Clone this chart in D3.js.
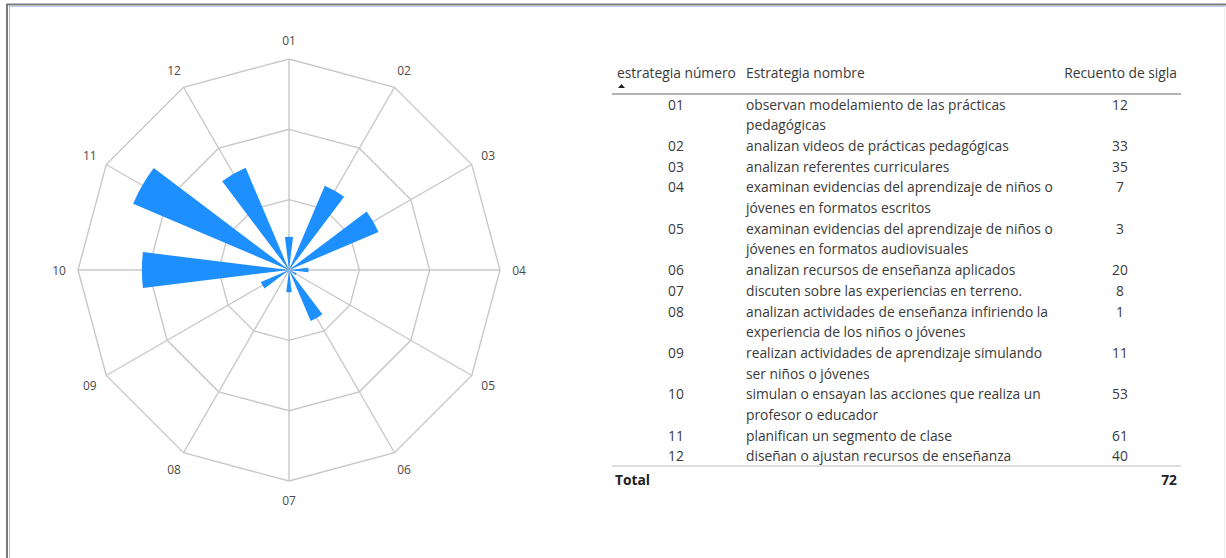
<!DOCTYPE html>
<html>
<head>
<meta charset="utf-8">
<script src="https://cdn.jsdelivr.net/npm/d3@7"></script>
<style>
  html, body { margin: 0; padding: 0; background: #fff; }
  svg { display: block; }
  text { font-family: "Open Sans", "Noto Sans", sans-serif; }
</style>
</head>
<body>
<svg id="chart" width="1226" height="558"></svg>
<script>
// Strategy codes, names and counts
const codes = ["01", "02", "03", "04", "05", "06", "07", "08", "09", "10", "11", "12"];
const counts = [12, 33, 35, 7, 3, 20, 8, 1, 11, 53, 61, 40];
const names = [
  ["observan modelamiento de las prácticas", "pedagógicas"],
  ["analizan videos de prácticas pedagógicas"],
  ["analizan referentes curriculares"],
  ["examinan evidencias del aprendizaje de niños o", "jóvenes en formatos escritos"],
  ["examinan evidencias del aprendizaje de niños o", "jóvenes en formatos audiovisuales"],
  ["analizan recursos de enseñanza aplicados"],
  ["discuten sobre las experiencias en terreno."],
  ["analizan actividades de enseñanza infiriendo la", "experiencia de los niños o jóvenes"],
  ["realizan actividades de aprendizaje simulando", "ser niños o jóvenes"],
  ["simulan o ensayan las acciones que realiza un", "profesor o educador"],
  ["planifican un segmento de clase"],
  ["diseñan o ajustan recursos de enseñanza"]
];
const headers = ["estrategia número", "Estrategia nombre", "Recuento de sigla"];
const totalLabel = "Total";
const totalValue = 72;
const radialMax = 76;
const ringCount = 3;

const svg = d3.select("#chart");

// Frame around the visual
svg.append("line").attr("x1", 6).attr("x2", 1226).attr("y1", 4.5).attr("y2", 4.5)
  .attr("stroke", "#7b7b7b").attr("stroke-width", 2);
svg.append("line").attr("x1", 7).attr("x2", 7).attr("y1", 4).attr("y2", 558)
  .attr("stroke", "#7b7b7b").attr("stroke-width", 2);
svg.append("line").attr("x1", 9).attr("x2", 1226).attr("y1", 6.5).attr("y2", 6.5)
  .attr("stroke", "#b9d2f2").attr("stroke-width", 1);
svg.append("line").attr("x1", 9.5).attr("x2", 9.5).attr("y1", 6).attr("y2", 558)
  .attr("stroke", "#9cc0ee").attr("stroke-width", 1);
svg.append("line").attr("x1", 1224.5).attr("x2", 1224.5).attr("y1", 6).attr("y2", 558)
  .attr("stroke", "#eeeeee").attr("stroke-width", 1);

// ---------- Polar bar chart ----------
const cx = 289, cy = 270, R = 211;
const polar = svg.append("g").attr("transform", `translate(${cx},${cy})`);

const angle = d3.scalePoint().domain(codes).range([0, 2 * Math.PI * (codes.length - 1) / codes.length]);
const radius = d3.scaleLinear().domain([0, radialMax]).range([0, R]);

const pt = (a, r) => [r * Math.sin(a), -r * Math.cos(a)];

// concentric polygon rings
const ringValues = d3.range(1, ringCount + 1).map(k => radialMax * k / ringCount);
polar.selectAll("path.ring").data(ringValues).join("path")
  .attr("class", "ring")
  .attr("d", v => d3.line()(codes.map(c => pt(angle(c), radius(v)))) + "Z")
  .attr("fill", "none").attr("stroke", "#c8c8c8").attr("stroke-width", 1.4);

// spokes
polar.selectAll("line.spoke").data(codes).join("line")
  .attr("class", "spoke")
  .attr("x1", 0).attr("y1", 0)
  .attr("x2", c => pt(angle(c), radius(radialMax))[0])
  .attr("y2", c => pt(angle(c), radius(radialMax))[1])
  .attr("stroke", "#c8c8c8").attr("stroke-width", 1.4);

// wedges
const halfWidth = (14 / 2) * Math.PI / 180;
const arc = d3.arc().innerRadius(0);
polar.selectAll("path.bar").data(codes.map((c, i) => ({ code: c, value: counts[i] }))).join("path")
  .attr("class", "bar")
  .attr("d", d => arc({
    startAngle: angle(d.code) - halfWidth,
    endAngle: angle(d.code) + halfWidth,
    outerRadius: radius(d.value)
  }))
  .attr("fill", "#1e8fff");

// category labels
const labelR = radius(radialMax) + 19;
polar.selectAll("text.cat").data(codes).join("text")
  .attr("class", "cat")
  .attr("x", c => pt(angle(c), labelR)[0])
  .attr("y", c => pt(angle(c), labelR)[1])
  .attr("text-anchor", "middle").attr("dominant-baseline", "central")
  .attr("font-size", 12).attr("fill", "#4a4a4a")
  .text(c => c);

// ---------- Table ----------
const table = svg.append("g");
const fs = 13.8;
const textColor = "#3a3a3a";
const colNum = 676, colName = 746, colCount = 1120;
const left = 612, right = 1181;
const lineH = 20.7;
const firstY = 104;

table.append("text").attr("x", 617).attr("y", 72).attr("dominant-baseline", "central")
  .attr("font-size", fs).attr("fill", textColor).text(headers[0]);
table.append("text").attr("x", colName).attr("y", 72).attr("dominant-baseline", "central")
  .attr("font-size", fs).attr("fill", textColor).text(headers[1]);
table.append("text").attr("x", 1177).attr("y", 72).attr("dominant-baseline", "central")
  .attr("text-anchor", "end")
  .attr("font-size", fs).attr("fill", textColor).text(headers[2]);
// sort indicator
table.append("path").attr("d", "M618,88 L621.5,84 L625,88 Z").attr("fill", "#222");

table.append("line").attr("x1", left).attr("x2", right).attr("y1", 94).attr("y2", 94)
  .attr("stroke", "#9a9a9a").attr("stroke-width", 1.5);

// row offsets from the number of name lines
const rowStart = [];
let acc = 0;
names.forEach(n => { rowStart.push(acc); acc += n.length; });

const rows = table.selectAll("g.row").data(codes.map((c, i) => ({
  code: c, lines: names[i], count: counts[i], y: firstY + rowStart[i] * lineH
}))).join("g").attr("class", "row");

rows.append("text").attr("x", colNum).attr("y", d => d.y)
  .attr("text-anchor", "middle").attr("dominant-baseline", "central")
  .attr("font-size", fs).attr("fill", textColor).text(d => d.code);

rows.append("text").attr("x", colCount).attr("y", d => d.y)
  .attr("text-anchor", "middle").attr("dominant-baseline", "central")
  .attr("font-size", fs).attr("fill", textColor).text(d => d.count);

rows.each(function (d) {
  d3.select(this).selectAll("text.name").data(d.lines).join("text")
    .attr("class", "name")
    .attr("x", colName).attr("y", (l, j) => d.y + j * lineH)
    .attr("dominant-baseline", "central")
    .attr("font-size", fs).attr("fill", textColor).text(l => l);
});

table.append("line").attr("x1", left).attr("x2", right).attr("y1", 466).attr("y2", 466)
  .attr("stroke", "#bdbdbd").attr("stroke-width", 1.2);

table.append("text").attr("x", 615).attr("y", 479).attr("dominant-baseline", "central")
  .attr("font-size", fs).attr("font-weight", "bold").attr("fill", "#222").text(totalLabel);
table.append("text").attr("x", 1177).attr("y", 479).attr("dominant-baseline", "central")
  .attr("text-anchor", "end")
  .attr("font-size", fs).attr("font-weight", "bold").attr("fill", "#222").text(totalValue);
</script>
</body>
</html>
